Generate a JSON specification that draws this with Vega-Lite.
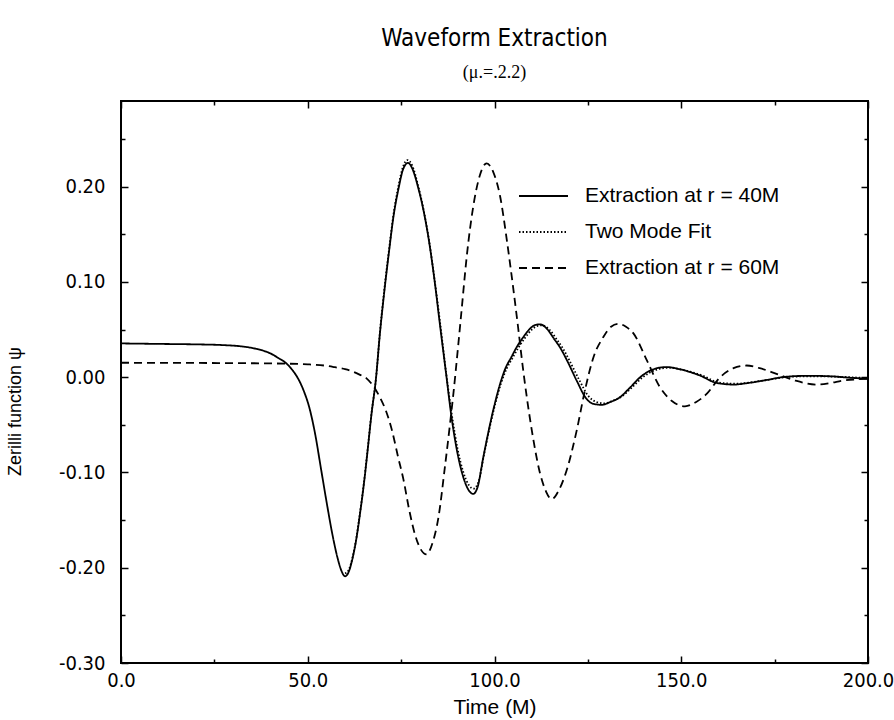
{
  "$schema": "https://vega.github.io/schema/vega-lite/v6.json",
  "width": 747,
  "height": 562,
  "autosize": {"type": "none"},
  "padding": {"left": 121, "top": 101, "right": 26, "bottom": 57},
  "background": "white",
  "config": {
    "view": {"stroke": "black", "strokeWidth": 2},
    "font": "Liberation Sans",
    "axis": {"domain": false, "grid": false, "tickColor": "black", "tickWidth": 1.5, "labelColor": "black", "titleColor": "black", "labelFont": "DejaVu Sans Condensed", "titleFont": "Liberation Sans", "titleFontWeight": "normal"}
  },
  "title": {
    "text": "Waveform Extraction",
    "subtitle": "(μ.=.2.2)",
    "anchor": "middle",
    "frame": "group",
    "font": "DejaVu Sans Condensed",
    "fontSize": 24,
    "fontWeight": "normal",
    "color": "black",
    "subtitleFont": "Liberation Serif",
    "subtitleFontSize": 18,
    "subtitleColor": "black",
    "subtitlePadding": 13,
    "offset": 18
  },
  "data": {
    "values": [
      {"series": "Extraction at r = 40M", "t": 0, "v": 0.0355},
      {"series": "Extraction at r = 40M", "t": 10, "v": 0.035},
      {"series": "Extraction at r = 40M", "t": 20, "v": 0.0345},
      {"series": "Extraction at r = 40M", "t": 27, "v": 0.0338},
      {"series": "Extraction at r = 40M", "t": 32, "v": 0.0325},
      {"series": "Extraction at r = 40M", "t": 36, "v": 0.03},
      {"series": "Extraction at r = 40M", "t": 40, "v": 0.025},
      {"series": "Extraction at r = 40M", "t": 42, "v": 0.0205},
      {"series": "Extraction at r = 40M", "t": 44.3, "v": 0.0144},
      {"series": "Extraction at r = 40M", "t": 46, "v": 0.007},
      {"series": "Extraction at r = 40M", "t": 47.5, "v": -0.002},
      {"series": "Extraction at r = 40M", "t": 49, "v": -0.015},
      {"series": "Extraction at r = 40M", "t": 50.5, "v": -0.033},
      {"series": "Extraction at r = 40M", "t": 52, "v": -0.06},
      {"series": "Extraction at r = 40M", "t": 53.5, "v": -0.095},
      {"series": "Extraction at r = 40M", "t": 55, "v": -0.13},
      {"series": "Extraction at r = 40M", "t": 56.5, "v": -0.163},
      {"series": "Extraction at r = 40M", "t": 58, "v": -0.19},
      {"series": "Extraction at r = 40M", "t": 59, "v": -0.203},
      {"series": "Extraction at r = 40M", "t": 60, "v": -0.209},
      {"series": "Extraction at r = 40M", "t": 61, "v": -0.204},
      {"series": "Extraction at r = 40M", "t": 62, "v": -0.19},
      {"series": "Extraction at r = 40M", "t": 63, "v": -0.17},
      {"series": "Extraction at r = 40M", "t": 64, "v": -0.143},
      {"series": "Extraction at r = 40M", "t": 65, "v": -0.113},
      {"series": "Extraction at r = 40M", "t": 66, "v": -0.078},
      {"series": "Extraction at r = 40M", "t": 67, "v": -0.041},
      {"series": "Extraction at r = 40M", "t": 68.3, "v": 0.0},
      {"series": "Extraction at r = 40M", "t": 69.3, "v": 0.045},
      {"series": "Extraction at r = 40M", "t": 70.5, "v": 0.09},
      {"series": "Extraction at r = 40M", "t": 71.7, "v": 0.13},
      {"series": "Extraction at r = 40M", "t": 73, "v": 0.17},
      {"series": "Extraction at r = 40M", "t": 74.3, "v": 0.198},
      {"series": "Extraction at r = 40M", "t": 75.5, "v": 0.218},
      {"series": "Extraction at r = 40M", "t": 76.8, "v": 0.225},
      {"series": "Extraction at r = 40M", "t": 78, "v": 0.219},
      {"series": "Extraction at r = 40M", "t": 79.5, "v": 0.2},
      {"series": "Extraction at r = 40M", "t": 81, "v": 0.175},
      {"series": "Extraction at r = 40M", "t": 82.5, "v": 0.142},
      {"series": "Extraction at r = 40M", "t": 84, "v": 0.1},
      {"series": "Extraction at r = 40M", "t": 85.4, "v": 0.055},
      {"series": "Extraction at r = 40M", "t": 87, "v": 0.005},
      {"series": "Extraction at r = 40M", "t": 88.5, "v": -0.042},
      {"series": "Extraction at r = 40M", "t": 90, "v": -0.078},
      {"series": "Extraction at r = 40M", "t": 91.5, "v": -0.103},
      {"series": "Extraction at r = 40M", "t": 93, "v": -0.118},
      {"series": "Extraction at r = 40M", "t": 94.3, "v": -0.1225},
      {"series": "Extraction at r = 40M", "t": 95.5, "v": -0.115},
      {"series": "Extraction at r = 40M", "t": 97, "v": -0.084},
      {"series": "Extraction at r = 40M", "t": 98.5, "v": -0.055},
      {"series": "Extraction at r = 40M", "t": 100, "v": -0.029},
      {"series": "Extraction at r = 40M", "t": 101.5, "v": -0.007},
      {"series": "Extraction at r = 40M", "t": 103, "v": 0.01},
      {"series": "Extraction at r = 40M", "t": 104.5, "v": 0.021},
      {"series": "Extraction at r = 40M", "t": 106, "v": 0.032},
      {"series": "Extraction at r = 40M", "t": 107.7, "v": 0.042},
      {"series": "Extraction at r = 40M", "t": 109.5, "v": 0.051},
      {"series": "Extraction at r = 40M", "t": 111, "v": 0.055},
      {"series": "Extraction at r = 40M", "t": 112.2, "v": 0.0555},
      {"series": "Extraction at r = 40M", "t": 114, "v": 0.051},
      {"series": "Extraction at r = 40M", "t": 116, "v": 0.04},
      {"series": "Extraction at r = 40M", "t": 117.5, "v": 0.0316},
      {"series": "Extraction at r = 40M", "t": 119.5, "v": 0.017},
      {"series": "Extraction at r = 40M", "t": 122, "v": -0.0035},
      {"series": "Extraction at r = 40M", "t": 124.5, "v": -0.022},
      {"series": "Extraction at r = 40M", "t": 126.5, "v": -0.028},
      {"series": "Extraction at r = 40M", "t": 128.7, "v": -0.029},
      {"series": "Extraction at r = 40M", "t": 131, "v": -0.026},
      {"series": "Extraction at r = 40M", "t": 133.6, "v": -0.021},
      {"series": "Extraction at r = 40M", "t": 136, "v": -0.012},
      {"series": "Extraction at r = 40M", "t": 139, "v": 0.0},
      {"series": "Extraction at r = 40M", "t": 142, "v": 0.0075},
      {"series": "Extraction at r = 40M", "t": 146, "v": 0.0107},
      {"series": "Extraction at r = 40M", "t": 150, "v": 0.008},
      {"series": "Extraction at r = 40M", "t": 155, "v": 0.0018},
      {"series": "Extraction at r = 40M", "t": 159.5, "v": -0.006},
      {"series": "Extraction at r = 40M", "t": 164, "v": -0.0077},
      {"series": "Extraction at r = 40M", "t": 168, "v": -0.006},
      {"series": "Extraction at r = 40M", "t": 173, "v": -0.0028},
      {"series": "Extraction at r = 40M", "t": 178, "v": 0.0005},
      {"series": "Extraction at r = 40M", "t": 184, "v": 0.0015},
      {"series": "Extraction at r = 40M", "t": 190, "v": 0.001},
      {"series": "Extraction at r = 40M", "t": 195, "v": -0.0005},
      {"series": "Extraction at r = 40M", "t": 200, "v": -0.0015},

      {"series": "Two Mode Fit", "t": 60, "v": -0.206},
      {"series": "Two Mode Fit", "t": 61, "v": -0.202},
      {"series": "Two Mode Fit", "t": 62, "v": -0.189},
      {"series": "Two Mode Fit", "t": 63, "v": -0.169},
      {"series": "Two Mode Fit", "t": 64, "v": -0.142},
      {"series": "Two Mode Fit", "t": 65, "v": -0.112},
      {"series": "Two Mode Fit", "t": 66, "v": -0.077},
      {"series": "Two Mode Fit", "t": 67, "v": -0.04},
      {"series": "Two Mode Fit", "t": 68.3, "v": 0.0},
      {"series": "Two Mode Fit", "t": 69.3, "v": 0.046},
      {"series": "Two Mode Fit", "t": 70.5, "v": 0.092},
      {"series": "Two Mode Fit", "t": 71.7, "v": 0.132},
      {"series": "Two Mode Fit", "t": 73, "v": 0.172},
      {"series": "Two Mode Fit", "t": 74.3, "v": 0.201},
      {"series": "Two Mode Fit", "t": 75.5, "v": 0.221},
      {"series": "Two Mode Fit", "t": 76.7, "v": 0.228},
      {"series": "Two Mode Fit", "t": 78, "v": 0.222},
      {"series": "Two Mode Fit", "t": 79.5, "v": 0.202},
      {"series": "Two Mode Fit", "t": 81, "v": 0.176},
      {"series": "Two Mode Fit", "t": 82.5, "v": 0.143},
      {"series": "Two Mode Fit", "t": 84, "v": 0.101},
      {"series": "Two Mode Fit", "t": 85.5, "v": 0.055},
      {"series": "Two Mode Fit", "t": 87, "v": 0.006},
      {"series": "Two Mode Fit", "t": 88.6, "v": -0.04},
      {"series": "Two Mode Fit", "t": 90.1, "v": -0.075},
      {"series": "Two Mode Fit", "t": 91.6, "v": -0.099},
      {"series": "Two Mode Fit", "t": 93.1, "v": -0.113},
      {"series": "Two Mode Fit", "t": 94.4, "v": -0.117},
      {"series": "Two Mode Fit", "t": 95.7, "v": -0.11},
      {"series": "Two Mode Fit", "t": 97.2, "v": -0.081},
      {"series": "Two Mode Fit", "t": 98.7, "v": -0.053},
      {"series": "Two Mode Fit", "t": 100.2, "v": -0.028},
      {"series": "Two Mode Fit", "t": 101.7, "v": -0.007},
      {"series": "Two Mode Fit", "t": 103.3, "v": 0.0095},
      {"series": "Two Mode Fit", "t": 104.8, "v": 0.02},
      {"series": "Two Mode Fit", "t": 106.4, "v": 0.031},
      {"series": "Two Mode Fit", "t": 108.1, "v": 0.041},
      {"series": "Two Mode Fit", "t": 110, "v": 0.05},
      {"series": "Two Mode Fit", "t": 111.6, "v": 0.054},
      {"series": "Two Mode Fit", "t": 112.8, "v": 0.0545},
      {"series": "Two Mode Fit", "t": 114.7, "v": 0.05},
      {"series": "Two Mode Fit", "t": 116.7, "v": 0.0395},
      {"series": "Two Mode Fit", "t": 118.2, "v": 0.031},
      {"series": "Two Mode Fit", "t": 120.2, "v": 0.0165},
      {"series": "Two Mode Fit", "t": 122.7, "v": -0.003},
      {"series": "Two Mode Fit", "t": 125.2, "v": -0.02},
      {"series": "Two Mode Fit", "t": 127.3, "v": -0.026},
      {"series": "Two Mode Fit", "t": 129.5, "v": -0.0275},
      {"series": "Two Mode Fit", "t": 131.8, "v": -0.0245},
      {"series": "Two Mode Fit", "t": 134.3, "v": -0.0195},
      {"series": "Two Mode Fit", "t": 136.7, "v": -0.011},
      {"series": "Two Mode Fit", "t": 139.7, "v": 0.0},
      {"series": "Two Mode Fit", "t": 142.7, "v": 0.007},
      {"series": "Two Mode Fit", "t": 146.7, "v": 0.01},
      {"series": "Two Mode Fit", "t": 150.7, "v": 0.0075},
      {"series": "Two Mode Fit", "t": 155.7, "v": 0.0017},
      {"series": "Two Mode Fit", "t": 160, "v": -0.0055},
      {"series": "Two Mode Fit", "t": 164.5, "v": -0.0068},
      {"series": "Two Mode Fit", "t": 168.5, "v": -0.0055},
      {"series": "Two Mode Fit", "t": 173.5, "v": -0.0025},
      {"series": "Two Mode Fit", "t": 178.5, "v": 0.0003},
      {"series": "Two Mode Fit", "t": 185, "v": 0.001},
      {"series": "Two Mode Fit", "t": 192, "v": 0.0005},
      {"series": "Two Mode Fit", "t": 200, "v": -0.001},

      {"series": "Extraction at r = 60M", "t": 0, "v": 0.0152},
      {"series": "Extraction at r = 60M", "t": 20, "v": 0.015},
      {"series": "Extraction at r = 60M", "t": 40, "v": 0.0145},
      {"series": "Extraction at r = 60M", "t": 50, "v": 0.0135},
      {"series": "Extraction at r = 60M", "t": 55, "v": 0.012},
      {"series": "Extraction at r = 60M", "t": 57.3, "v": 0.0105},
      {"series": "Extraction at r = 60M", "t": 60, "v": 0.0085},
      {"series": "Extraction at r = 60M", "t": 62, "v": 0.006},
      {"series": "Extraction at r = 60M", "t": 64, "v": 0.0025},
      {"series": "Extraction at r = 60M", "t": 65.8, "v": -0.0014},
      {"series": "Extraction at r = 60M", "t": 67.5, "v": -0.009},
      {"series": "Extraction at r = 60M", "t": 69.3, "v": -0.021},
      {"series": "Extraction at r = 60M", "t": 71, "v": -0.036},
      {"series": "Extraction at r = 60M", "t": 72.5, "v": -0.055},
      {"series": "Extraction at r = 60M", "t": 74.2, "v": -0.084},
      {"series": "Extraction at r = 60M", "t": 75.6, "v": -0.107},
      {"series": "Extraction at r = 60M", "t": 77.2, "v": -0.14},
      {"series": "Extraction at r = 60M", "t": 78.7, "v": -0.165},
      {"series": "Extraction at r = 60M", "t": 80.3, "v": -0.181},
      {"series": "Extraction at r = 60M", "t": 81.8, "v": -0.186},
      {"series": "Extraction at r = 60M", "t": 83.4, "v": -0.174},
      {"series": "Extraction at r = 60M", "t": 85, "v": -0.147},
      {"series": "Extraction at r = 60M", "t": 86.7, "v": -0.095},
      {"series": "Extraction at r = 60M", "t": 88, "v": -0.052},
      {"series": "Extraction at r = 60M", "t": 89, "v": -0.017},
      {"series": "Extraction at r = 60M", "t": 90.2, "v": 0.03},
      {"series": "Extraction at r = 60M", "t": 91.2, "v": 0.071},
      {"series": "Extraction at r = 60M", "t": 92.6, "v": 0.128},
      {"series": "Extraction at r = 60M", "t": 94.3, "v": 0.179},
      {"series": "Extraction at r = 60M", "t": 96, "v": 0.211},
      {"series": "Extraction at r = 60M", "t": 97.9, "v": 0.2246},
      {"series": "Extraction at r = 60M", "t": 99.7, "v": 0.215},
      {"series": "Extraction at r = 60M", "t": 101.5, "v": 0.19},
      {"series": "Extraction at r = 60M", "t": 103.3, "v": 0.144},
      {"series": "Extraction at r = 60M", "t": 105, "v": 0.094},
      {"series": "Extraction at r = 60M", "t": 106.3, "v": 0.053},
      {"series": "Extraction at r = 60M", "t": 107.6, "v": 0.01},
      {"series": "Extraction at r = 60M", "t": 110, "v": -0.056},
      {"series": "Extraction at r = 60M", "t": 112.2, "v": -0.101},
      {"series": "Extraction at r = 60M", "t": 113.8, "v": -0.12},
      {"series": "Extraction at r = 60M", "t": 115.3, "v": -0.128},
      {"series": "Extraction at r = 60M", "t": 117.3, "v": -0.118},
      {"series": "Extraction at r = 60M", "t": 119.3, "v": -0.098},
      {"series": "Extraction at r = 60M", "t": 122, "v": -0.056},
      {"series": "Extraction at r = 60M", "t": 124.2, "v": -0.014},
      {"series": "Extraction at r = 60M", "t": 126.5, "v": 0.021},
      {"series": "Extraction at r = 60M", "t": 129.1, "v": 0.042},
      {"series": "Extraction at r = 60M", "t": 131.2, "v": 0.053},
      {"series": "Extraction at r = 60M", "t": 133.2, "v": 0.056},
      {"series": "Extraction at r = 60M", "t": 135.2, "v": 0.053},
      {"series": "Extraction at r = 60M", "t": 137.2, "v": 0.046},
      {"series": "Extraction at r = 60M", "t": 140.8, "v": 0.0176},
      {"series": "Extraction at r = 60M", "t": 144.3, "v": -0.0105},
      {"series": "Extraction at r = 60M", "t": 147.5, "v": -0.025},
      {"series": "Extraction at r = 60M", "t": 151, "v": -0.0305},
      {"series": "Extraction at r = 60M", "t": 154, "v": -0.026},
      {"series": "Extraction at r = 60M", "t": 156.8, "v": -0.0175},
      {"series": "Extraction at r = 60M", "t": 160.4, "v": 0.0},
      {"series": "Extraction at r = 60M", "t": 164, "v": 0.0095},
      {"series": "Extraction at r = 60M", "t": 167.5, "v": 0.0123},
      {"series": "Extraction at r = 60M", "t": 171, "v": 0.0095},
      {"series": "Extraction at r = 60M", "t": 175.5, "v": 0.0035},
      {"series": "Extraction at r = 60M", "t": 180.5, "v": -0.0035},
      {"series": "Extraction at r = 60M", "t": 186.2, "v": -0.0077},
      {"series": "Extraction at r = 60M", "t": 190, "v": -0.006},
      {"series": "Extraction at r = 60M", "t": 193.3, "v": -0.0035},
      {"series": "Extraction at r = 60M", "t": 200, "v": -0.0017}
    ]
  },
  "layer": [
    {
      "mark": {"type": "line", "color": "black", "strokeWidth": 1.8, "interpolate": "monotone"},
      "encoding": {
        "x": {
          "field": "t", "type": "quantitative",
          "scale": {"domain": [0, 200], "nice": false, "zero": false},
          "axis": {
            "orient": "bottom", "title": "Time (M)", "titleFontSize": 21, "titlePadding": 3,
            "values": [0, 25, 50, 75, 100, 125, 150, 175, 200],
            "labelExpr": "datum.value % 50 === 0 ? format(datum.value, '.1f') : ''",
            "labelFontSize": 20, "labelPadding": 14, "labelFlush": false, "labelOverlap": false,
            "tickSize": {"condition": {"test": "datum.value % 50 === 0", "value": -7}, "value": -4}
          }
        },
        "y": {
          "field": "v", "type": "quantitative",
          "scale": {"domain": [-0.3, 0.29], "nice": false, "zero": false},
          "axis": {
            "orient": "left", "title": "Zerilli function ψ", "titleFontSize": 18, "titlePadding": 34, "titleY": 310,
            "values": [-0.3, -0.25, -0.2, -0.15, -0.1, -0.05, 0, 0.05, 0.1, 0.15, 0.2, 0.25],
            "labelExpr": "abs(round(datum.value * 100)) % 10 === 0 ? replace(format(datum.value, '.2f'), '−', '-') : ''",
            "labelFontSize": 20, "labelPadding": 23, "labelFlush": false, "labelOverlap": false,
            "tickSize": {"condition": {"test": "abs(round(datum.value * 100)) % 10 === 0", "value": -7}, "value": -4}
          }
        },
        "strokeDash": {
          "field": "series", "type": "nominal",
          "scale": {"domain": ["Extraction at r = 40M", "Two Mode Fit", "Extraction at r = 60M"], "range": [[1, 0], [1.5, 2], [8, 5]]},
          "legend": {
            "title": null, "orient": "none", "legendX": 397, "legendY": 69.5,
            "symbolType": "stroke", "symbolSize": 2401, "symbolStrokeWidth": 1.8, "symbolStrokeColor": "black",
            "labelFontSize": 21, "labelFont": "Liberation Sans", "labelColor": "black", "labelOffset": 16, "labelLimit": 400, "rowPadding": -22.5
          }
        }
      }
    },
    {
      "mark": {"type": "line", "opacity": 0},
      "encoding": {
        "x": {
          "field": "t", "type": "quantitative",
          "scale": {"domain": [0, 200], "nice": false, "zero": false},
          "axis": {
            "orient": "top", "title": null, "labels": false,
            "values": [0, 25, 50, 75, 100, 125, 150, 175, 200],
            "tickSize": {"condition": {"test": "datum.value % 50 === 0", "value": -7}, "value": -4}
          }
        },
        "y": {
          "field": "v", "type": "quantitative",
          "scale": {"domain": [-0.3, 0.29], "nice": false, "zero": false},
          "axis": {
            "orient": "right", "title": null, "labels": false,
            "values": [-0.3, -0.25, -0.2, -0.15, -0.1, -0.05, 0, 0.05, 0.1, 0.15, 0.2, 0.25],
            "tickSize": {"condition": {"test": "abs(round(datum.value * 100)) % 10 === 0", "value": -7}, "value": -4}
          }
        },
        "detail": {"field": "series", "type": "nominal"}
      }
    }
  ],
  "resolve": {"scale": {"x": "independent", "y": "independent"}}
}
